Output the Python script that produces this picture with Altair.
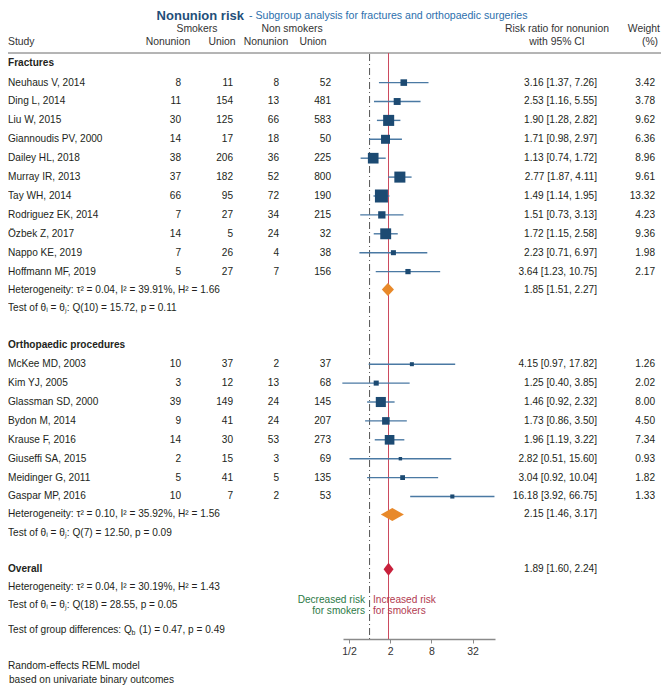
import altair as alt
import pandas as pd

# ---------------- data ----------------
frac_names = ["Neuhaus V, 2014", "Ding L, 2014", "Liu W, 2015", "Giannoudis PV, 2000",
              "Dailey HL, 2018", "Murray IR, 2013", "Tay WH, 2014", "Rodriguez EK, 2014",
              "Özbek Z, 2017", "Nappo KE, 2019", "Hoffmann MF, 2019"]
frac_s_non = [8, 11, 30, 14, 38, 37, 66, 7, 14, 7, 5]
frac_s_uni = [11, 154, 125, 17, 206, 182, 95, 27, 5, 26, 27]
frac_n_non = [8, 13, 66, 18, 36, 52, 72, 34, 24, 4, 7]
frac_n_uni = [52, 481, 583, 50, 225, 800, 190, 215, 32, 38, 156]
frac_rr = [3.16, 2.53, 1.90, 1.71, 1.13, 2.77, 1.49, 1.51, 1.72, 2.23, 3.64]
frac_lo = [1.37, 1.16, 1.28, 0.98, 0.74, 1.87, 1.14, 0.73, 1.15, 0.71, 1.23]
frac_hi = [7.26, 5.55, 2.82, 2.97, 1.72, 4.11, 1.95, 3.13, 2.58, 6.97, 10.75]
frac_w = [3.42, 3.78, 9.62, 6.36, 8.96, 9.61, 13.32, 4.23, 9.36, 1.98, 2.17]

orth_names = ["McKee MD, 2003", "Kim YJ, 2005", "Glassman SD, 2000", "Bydon M, 2014",
              "Krause F, 2016", "Giuseffi SA, 2015", "Meidinger G, 2011", "Gaspar MP, 2016"]
orth_s_non = [10, 3, 39, 9, 14, 2, 5, 10]
orth_s_uni = [37, 12, 149, 41, 30, 15, 41, 7]
orth_n_non = [2, 13, 24, 24, 53, 3, 5, 2]
orth_n_uni = [37, 68, 145, 207, 273, 69, 135, 53]
orth_rr = [4.15, 1.25, 1.46, 1.73, 1.96, 2.82, 3.04, 16.18]
orth_lo = [0.97, 0.40, 0.92, 0.86, 1.19, 0.51, 0.92, 3.92]
orth_hi = [17.82, 3.85, 2.32, 3.50, 3.22, 15.60, 10.04, 66.75]
orth_w = [1.26, 2.02, 8.00, 4.50, 7.34, 0.93, 1.82, 1.33]

pooled_names = ["Fractures", "Orthopaedic procedures", "Overall"]
pooled_rr = [1.85, 2.15, 1.89]
pooled_lo = [1.51, 1.46, 1.60]
pooled_hi = [2.27, 3.17, 2.24]

het_texts = ["Heterogeneity: τ² = 0.04, I² = 39.91%, H² = 1.66",
             "Heterogeneity: τ² = 0.10, I² = 35.92%, H² = 1.56",
             "Heterogeneity: τ² = 0.04, I² = 30.19%, H² = 1.43"]
test_texts = ["Test of θᵢ = θⱼ: Q(10) = 15.72, p = 0.11",
              "Test of θᵢ = θⱼ: Q(7) = 12.50, p = 0.09",
              "Test of θᵢ = θⱼ: Q(18) = 28.55, p = 0.05"]
tick_values = [0.5, 2, 8, 32]

# ---------------- layout (row positions) ----------------
frac_rows = [1.1 + i for i in range(11)]
orth_rows = [16.0 + i for i in range(8)]
heading_rows = [0.05, 15.0, 26.85]
het_rows = [12.05, 23.95, 27.8]
test_rows = [13.05, 24.95, 28.75]
pooled_rows = [12.05, 23.95, 26.85]

FONT = "Liberation Sans"
FS = 10.1
TXT = "#231f20"
HDR = "#333333"
W, H = 653, 631

studies = pd.DataFrame({
    "row": frac_rows + orth_rows,
    "name": frac_names + orth_names,
    "sn": frac_s_non + orth_s_non,
    "su": frac_s_uni + orth_s_uni,
    "nn": frac_n_non + orth_n_non,
    "nu": frac_n_uni + orth_n_uni,
    "rr": frac_rr + orth_rr,
    "lo": frac_lo + orth_lo,
    "hi": frac_hi + orth_hi,
    "w": frac_w + orth_w,
})
studies["est"] = [f"{r:.2f} [{l:.2f}, {h:.2f}]" for r, l, h in zip(studies.rr, studies.lo, studies.hi)]
studies["wt"] = [f"{w:.2f}" for w in studies.w]

pooled = pd.DataFrame({"row": pooled_rows, "rr": pooled_rr, "lo": pooled_lo, "hi": pooled_hi,
                       "grp": ["sub", "sub", "all"], "name": pooled_names})
pooled["est"] = [f"{r:.2f} [{l:.2f}, {h:.2f}]" for r, l, h in zip(pooled.rr, pooled.lo, pooled.hi)]

HALF = 0.34
dia_rows = []
for i, p in pooled.iterrows():
    dia_rows.append({"id": i, "grp": p.grp, "x": p.lo, "y": p.row, "y2": p.row})
    dia_rows.append({"id": i, "grp": p.grp, "x": p.rr, "y": p.row - HALF, "y2": p.row + HALF})
    dia_rows.append({"id": i, "grp": p.grp, "x": p.hi, "y": p.row, "y2": p.row})
diamonds = pd.DataFrame(dia_rows)

headings = pd.DataFrame({"row": heading_rows, "text": pooled_names})
notes = pd.DataFrame({"row": het_rows + test_rows, "text": het_texts + test_texts})

yscale = alt.Scale(domain=[-2.847, 30.54], reverse=True, nice=False, zero=False)
Y = alt.Y("row:Q", scale=yscale, axis=None)
xscale = alt.Scale(type="log", base=2, domain=[0.409, 67.98], range=[335, 487], nice=False)


def txt(df, field, xpx, align="left", **kw):
    params = dict(font=FONT, fontSize=FS, color=TXT, align=align, baseline="middle")
    params.update(kw)
    return alt.Chart(df).mark_text(**params).encode(x=alt.value(xpx), y=Y, text=f"{field}:N")


def one(row, text, xpx, align="left", **kw):
    return txt(pd.DataFrame({"row": [row], "text": [text]}), "text", xpx, align, **kw)


# vertical reference lines
ref_null = alt.Chart(pd.DataFrame({"x": [1.0]})).mark_rule(
    color="#555555", strokeWidth=1, strokeDash=[7, 3, 1, 3]).encode(
    x=alt.X("x:Q", scale=xscale,
            axis=alt.Axis(values=tick_values, title=None, grid=False,
                          labelExpr="datum.value < 1 ? '1/2' : format(datum.value, 'd')",
                          domainColor="#8a8a8a", domainWidth=1.5, tickColor="#8a8a8a",
                          tickSize=4, tickWidth=1, labelFont=FONT, labelFontSize=10.5,
                          labelColor="#333333", labelPadding=3)),
    y=alt.value(46), y2=alt.value(H))
ref_all = alt.Chart(pooled[pooled.grp == "all"]).mark_rule(
    color="#cc4a5e", strokeWidth=1).encode(
    x=alt.X("rr:Q", scale=xscale), y=alt.value(45), y2=alt.value(H))

sep = alt.Chart(pd.DataFrame({"a": [0]})).mark_rule(color="#6b6b6b", strokeWidth=1).encode(
    x=alt.value(0), x2=alt.value(W), y=alt.value(45))

ci = alt.Chart(studies).mark_rule(color="#4a79a3", strokeWidth=1.4).encode(
    x=alt.X("lo:Q", scale=xscale), x2="hi:Q", y=Y)
sq = alt.Chart(studies).mark_square(color="#1c4a72", opacity=1).encode(
    x=alt.X("rr:Q", scale=xscale), y=Y,
    size=alt.Size("w:Q", scale=alt.Scale(domain=[0, 13.32], range=[0, 169]), legend=None))
dia = alt.Chart(diamonds).mark_area(opacity=1).encode(
    x=alt.X("x:Q", scale=xscale), y=alt.Y("y:Q", scale=yscale, axis=None), y2="y2:Q",
    detail="id:N",
    color=alt.Color("grp:N", scale=alt.Scale(domain=["sub", "all"], range=["#e8892a", "#c8213c"]),
                    legend=None))

layers = [sep, ref_null, ref_all, ci, sq, dia,
          txt(studies, "name", 0),
          txt(studies, "sn", 173, "right"),
          txt(studies, "su", 225, "right"),
          txt(studies, "nn", 271, "right"),
          txt(studies, "nu", 323, "right"),
          txt(studies, "est", 589, "right"),
          txt(studies, "wt", 647, "right"),
          txt(pooled, "est", 589, "right"),
          txt(headings, "text", 0, fontWeight="bold"),
          txt(notes, "text", 0)]

# header texts
for text, xpx in zip(["Smokers", "Non smokers", "Risk ratio for nonunion"], [189, 284, 549]):
    layers.append(one(-1.74, text, xpx, "center", color=HDR, fontSize=10.4))
layers.append(one(-1.74, "Weight", W - 1, "right", color=HDR, fontSize=10.4))
for text, xpx in zip(["Nonunion", "Union", "Nonunion", "Union", "with 95% CI", "(%)"],
                     [160, 214, 258, 305, 549, 642]):
    layers.append(one(-1.05, text, xpx, "center", color=HDR, fontSize=10.4))
layers.append(one(-1.05, "Study", 0, color=HDR, fontSize=10.4))

# title
TROW = -2.44
layers.append(one(TROW, "Nonunion risk", 236, "right", fontSize=13, fontWeight="bold",
                  color="#1f4f7a"))
layers.append(one(TROW, "- Subgroup analysis for fractures and orthopaedic surgeries", 241, "left",
                  fontSize=10.6, color="#2c6fad"))

# group differences with subscript b
grp_row = 30.05
layers.append(one(grp_row, "Test of group differences: Q", 0))
layers.append(one(grp_row, "b", 123.5, fontSize=7, dy=3))
layers.append(one(grp_row, "(1) = 0.47, p = 0.49", 131))

# direction labels
dec = pd.DataFrame({"row": [28.46, 29.04], "text": ["Decreased risk", "for smokers"]})
inc = pd.DataFrame({"row": [28.46, 29.04], "text": ["Increased risk", "for smokers"]})
layers.append(txt(dec, "text", 357, "right", color="#2d7a47"))
layers.append(txt(inc, "text", 365, "left", color="#b23a50"))

# footnotes
layers.append(one(31.98, "Random-effects REML model", 0))
layers.append(one(32.7, "based on univariate binary outcomes", 1))

chart = alt.layer(*layers).properties(width=W, height=H).configure_view(stroke=None).properties(
    autosize=alt.AutoSizeParams(type="none"),
    padding={"left": 0, "top": 0, "right": 0, "bottom": 49})

chart.save("out.html", embed_options={"renderer": "svg", "actions": False})
